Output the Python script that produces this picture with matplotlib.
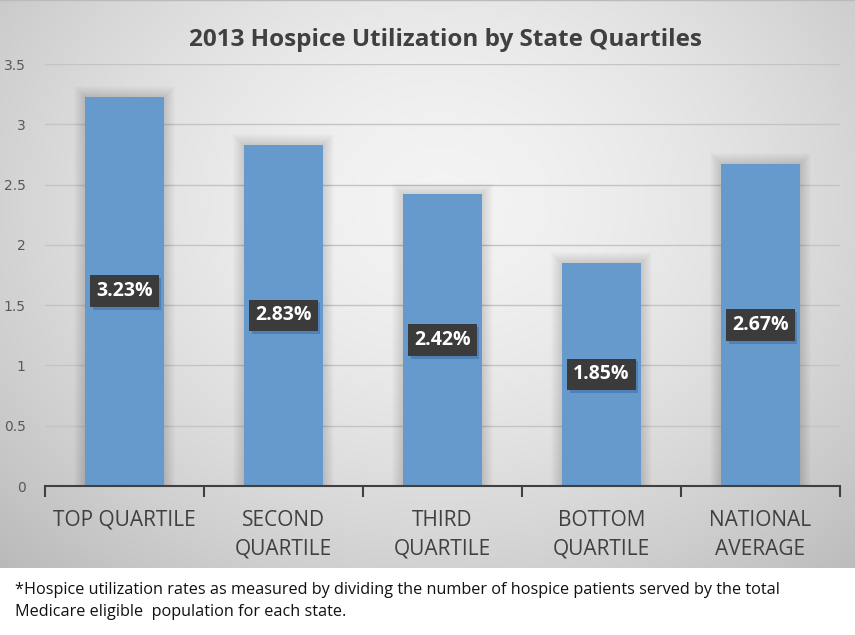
import numpy as np
import matplotlib
matplotlib.use("Agg")
import matplotlib.pyplot as plt
import matplotlib.patheffects as pe

categories = ["TOP QUARTILE", "SECOND\nQUARTILE", "THIRD\nQUARTILE", "BOTTOM\nQUARTILE", "NATIONAL\nAVERAGE"]
values = [3.23, 2.83, 2.42, 1.85, 2.67]
labels = ["3.23%", "2.83%", "2.42%", "1.85%", "2.67%"]
yticks = [0, 0.5, 1, 1.5, 2, 2.5, 3, 3.5]
ytick_labels = ["0", "0.5", "1", "1.5", "2", "2.5", "3", "3.5"]
title = "2013 Hospice Utilization by State Quartiles"
footnote = ("*Hospice utilization rates as measured by dividing the number of hospice patients served by the total\n"
            "Medicare eligible  population for each state.")

W, H = 855, 635
fig = plt.figure(figsize=(W / 100, H / 100), dpi=100)
fig.patch.set_facecolor("white")

font = ["Open Sans", "DejaVu Sans"]

# gradient background for chart area
chart_bottom = 568
bg = fig.add_axes([0, 1 - chart_bottom / H, 1, chart_bottom / H])
bg.set_axis_off()
yy, xx = np.mgrid[0:chart_bottom, 0:W]
cx, cy = 440, 200
d = np.sqrt(((xx - cx) / 560) ** 2 + ((yy - cy) / 460) ** 2)
v = np.clip(0.955 - 0.19 * d ** 1.6, 0.72, 1)
img = np.dstack([v, v, v])
bg.imshow(img, aspect="auto", extent=[0, 1, 0, 1], origin="upper")
bg.set_xlim(0, 1)
bg.set_ylim(0, 1)
bg.plot([0, 1], [1, 1], color="#bbbbbb", lw=1)

ax = fig.add_axes([45 / W, 1 - 486 / H, (840 - 45) / W, (486 - 64) / H])
ax.patch.set_alpha(0)
x = np.arange(len(categories))
# soft diffuse shadows
px_x = 1 / 159.0
px_y = 0.5 / 60.3
for k in range(1, 12):
    ax.bar(x, [vv + k * px_y for vv in values], width=0.5 + 2 * k * px_x, bottom=0,
           color="black", alpha=0.012, zorder=2, linewidth=0)
ax.bar(x, values, width=0.5, color="#6699cc", zorder=3, linewidth=0)
ax.set_xlim(-0.5, len(categories) - 0.5)
ax.set_ylim(0, 3.5)
ax.set_yticks(yticks)
ax.set_yticklabels(ytick_labels, fontsize=10, color="#595959")
ax.yaxis.grid(True, color="#c4c4c4", lw=1, zorder=1)
ax.tick_params(axis="y", length=0, pad=14)
for s in ["top", "right", "left"]:
    ax.spines[s].set_visible(False)
ax.spines["bottom"].set_color("#404040")
ax.spines["bottom"].set_linewidth(1.5)
ax.spines["bottom"].set_zorder(5)
ax.set_xticks(np.arange(len(categories) + 1) - 0.5, minor=False)
ax.set_xticklabels([])
ax.tick_params(axis="x", length=8, width=1.5, color="#404040", direction="out")
ax.set_xticks(x, minor=True)
ax.set_xticklabels(categories, minor=True, fontsize=15, color="#404040",
                   family=font, linespacing=1.5)
ax.tick_params(axis="x", which="minor", length=0, pad=17)

for xi, vv, lab in zip(x, values, labels):
    t = ax.text(xi, vv / 2, lab, ha="center", va="center", fontsize=14, fontweight="bold",
                color="white", family=font,
                bbox=dict(boxstyle="square,pad=0.3", fc="#3b3b3b", ec="none"), zorder=7)
    t.get_bbox_patch().set_path_effects([
        pe.SimplePatchShadow(offset=(2, -2), shadow_rgbFace="#4f80b8", alpha=1.0),
        pe.Normal()])

fig.text(445 / W, 1 - 40 / H, title, ha="center", va="center", fontsize=17.5,
         fontweight="bold", color="#404040", family=font)
fig.text(15 / W, 1 - 601 / H, footnote, ha="left", va="center", fontsize=11.7,
         color="#111111", family=font, linespacing=1.45)

fig.savefig("out.png", dpi=100)
